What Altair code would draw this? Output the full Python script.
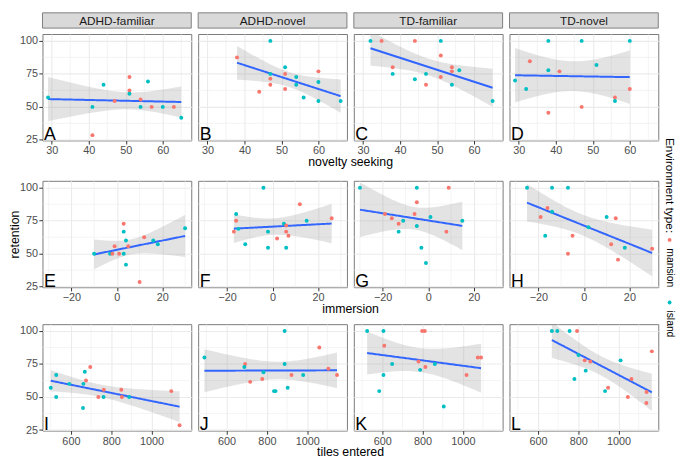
import numpy as np
import pandas as pd
import altair as alt

FONT = "Liberation Sans"
MANSION = "#F8766D"
ISLAND = "#00BFC4"

# ---------------- data ----------------
facets = ["ADHD-familiar", "ADHD-novel", "TD-familiar", "TD-novel"]
row_titles = ["novelty seeking", "immersion", "tiles entered"]
letters = ["A", "B", "C", "D", "E", "F", "G", "H", "I", "J", "K", "L"]
env_names = {"m": "mansion", "i": "island"}
legend_items = ["mansion", "island"]

A_x = [29, 44, 41, 41, 47, 51, 51, 51, 54, 54, 56, 57, 60, 63, 65]
A_y = [57.1, 66.7, 50, 28.6, 54.5, 72.7, 62.5, 60, 55.6, 50, 69.2, 50, 50, 50, 41.7]
A_env = "iiimmmmimiimimi"

B_x = [38, 47, 47, 47, 47, 44, 51, 51, 51, 54, 54, 56, 60, 60, 60, 66]
B_y = [87.5, 100, 75, 71.4, 66.7, 61.5, 80, 75, 63.6, 72.7, 66.7, 57.1, 76.9, 68.8, 54.5, 54.5]
B_env = "miimmmimmiiimiii"

C_x = [32, 35, 44, 51, 51, 38, 38, 44, 47, 47, 51, 54, 54, 56, 54, 65]
C_y = [100, 100, 100, 100, 88.9, 80, 75, 71, 75, 66.7, 72.7, 80, 76.9, 77.8, 66.7, 54.5]
C_env = "immimmiiimmmmiii"

D_x = [38, 47, 60, 33, 38, 41, 51, 29, 32, 60, 56, 56, 47, 38]
D_y = [100, 100, 100, 84.6, 77.8, 76.9, 81.8, 70, 63.6, 63.6, 57.1, 54.5, 50, 45.5]
D_env = "iiimimiiimmimm"

E_x = [-10, -3, -2, -1, 1, 3, 3, 3, 4, 4, 5, 10, 12, 16, 18, 30]
E_y = [50, 50, 50, 55.6, 50, 72.7, 66.7, 50, 60, 41.7, 55.6, 28.6, 62.5, 60, 57.1, 69.2]
E_env = "iimmmmiiiimmmiii"

F_x = [-17, -16, -16, -15, -12, -4, -2, -2, 2, 5, 6, 6, 6, 7, 12, 15, 26]
F_y = [66.7, 75, 80, 68.8, 57.1, 100, 66.7, 54.5, 61.5, 72.7, 71.4, 66.7, 54.5, 63.6, 87.5, 75, 76.9]
F_env = "mmiiiiiimimmimmim"

G_x = [-30, -5, 9, -5, -19, -16, -13, -11, -13, -6, -5, 1, -3, -1, 8, 15]
G_y = [100, 100, 100, 88.9, 80, 76.9, 72.7, 75, 66.7, 80, 71, 77.8, 54.5, 42.9, 66.7, 75]
G_env = "iimmmmmiimiiiimi"

H_x = [-25, -14, -7, -16, -14, -19, -17, -5, -7, 2, 10, 14, 12, 18, 15, 30]
H_y = [100, 100, 100, 84.6, 81.8, 77.8, 63.6, 63.6, 50, 70, 77.8, 76.9, 57.1, 54.5, 45.5, 53.8]
H_env = "iiimimimmiimmimm"

I_x = [500, 527, 527, 592, 660, 662, 669, 675, 696, 736, 763, 762, 850, 853, 889, 1098, 1139]
I_y = [57.1, 66.7, 50, 60, 41.7, 60, 69.2, 62.5, 72.7, 50, 55.6, 50, 55.6, 50, 50, 54.5, 28.6]
I_env = "iiiiiiimmmmimmimm"

J_x = [490, 692, 688, 717, 783, 777, 835, 843, 888, 888, 903, 922, 980, 1060, 1105, 1148]
J_y = [80, 75, 72.7, 61.5, 68.8, 63.6, 54.5, 54.5, 100, 75, 57.1, 66.7, 66.7, 87.5, 71.4, 66.7]
J_env = "imimimiiiiimimmm"

K_x = [525, 606, 798, 811, 610, 649, 606, 585, 780, 788, 814, 861, 905, 1018, 1074, 1090]
K_y = [100, 100, 100, 100, 88.9, 75, 66.7, 54.5, 76.9, 70.6, 72.7, 75, 42.9, 66.7, 80, 80]
K_env = "iimmmiiimimiimmm"

L_x = [669, 696, 757, 794, 801, 832, 860, 837, 781, 1010, 1064, 948, 933, 1046, 1139, 1138, 1165]
L_y = [100, 100, 100, 100, 81.8, 77.8, 76.9, 70, 63.6, 77.8, 63.6, 57.1, 54.5, 50, 53.8, 45.5, 84.6]
L_env = "iiimimmiiimmimmmm"

panel_data = [
    [(A_x, A_y, A_env), (B_x, B_y, B_env), (C_x, C_y, C_env), (D_x, D_y, D_env)],
    [(E_x, E_y, E_env), (F_x, F_y, F_env), (G_x, G_y, G_env), (H_x, H_y, H_env)],
    [(I_x, I_y, I_env), (J_x, J_y, J_env), (K_x, K_y, K_env), (L_x, L_y, L_env)],
]

# axis ticks / domains
x_domains = [[27.5, 67.7], [-32.7, 32.7], [459, 1197]]
x_major = [[30, 40, 50, 60], [-20, 0, 20], [600, 800, 1000]]
x_minor = [[35, 45, 55, 65], [-30, -10, 10, 30], [500, 700, 900, 1100]]
y_domain = [24.6, 105.2]
y_major = [25, 50, 75, 100]
y_minor = [37.5, 62.5, 87.5]

T975 = {10: 2.228, 11: 2.201, 12: 2.179, 13: 2.160, 14: 2.145, 15: 2.131,
        16: 2.120, 17: 2.110, 18: 2.101, 19: 2.093, 20: 2.086}

W = 151
H = 108
GRID = "#ebebeb"


def fit_band(xs, ys, n_grid=80):
    x = np.asarray(xs, float)
    y = np.asarray(ys, float)
    n = len(x)
    b1, b0 = np.polyfit(x, y, 1)
    res = y - (b0 + b1 * x)
    s = np.sqrt((res ** 2).sum() / (n - 2))
    sxx = ((x - x.mean()) ** 2).sum()
    g = np.linspace(x.min(), x.max(), n_grid)
    f = b0 + b1 * g
    se = s * np.sqrt(1.0 / n + (g - x.mean()) ** 2 / sxx)
    t = T975[n - 2]
    return pd.DataFrame({"x": g, "fit": f, "lo": f - t * se, "hi": f + t * se})


def make_panel(row, col):
    xs, ys, env = panel_data[row][col]
    df = pd.DataFrame({"x": xs, "y": ys, "env": [env_names[c] for c in env]})
    band = fit_band(xs, ys)

    xscale = alt.Scale(domain=x_domains[row], nice=False, zero=False)
    yscale = alt.Scale(domain=y_domain, nice=False, zero=False)
    xaxis = alt.Axis(values=x_major[row], format="d", grid=True, gridColor=GRID, gridWidth=1.1,
                     labelFontSize=11, labelColor="#4d4d4d", labelFont=FONT,
                     tickColor="#333333", tickSize=3.7, tickWidth=1, labelPadding=1,
                     domain=False, title=None)
    if col == 0:
        yaxis = alt.Axis(values=y_major, format="d", grid=True, gridColor=GRID, gridWidth=1.1,
                         labelFontSize=11, labelColor="#4d4d4d", labelFont=FONT,
                         tickColor="#333333", tickSize=3.7, tickWidth=1, labelPadding=1.3,
                         domain=False, title="retention", titleFont=FONT,
                         titleFontSize=12.5, titleFontWeight="normal", titleColor="black",
                         titleOpacity=1 if row == 1 else 0, titlePadding=0,
                         minExtent=21, maxExtent=21)
    else:
        yaxis = alt.Axis(values=y_major, grid=True, gridColor=GRID, gridWidth=1.1,
                         labels=False, ticks=False, domain=False, title=None)

    X = lambda f: alt.X(f, type="quantitative", scale=xscale, axis=xaxis)
    Y = lambda f: alt.Y(f, type="quantitative", scale=yscale, axis=yaxis)

    minor_x = alt.Chart(pd.DataFrame({"v": x_minor[row]})).mark_rule(
        color=GRID, strokeWidth=0.55).encode(x=X("v"))
    minor_y = alt.Chart(pd.DataFrame({"v": y_minor})).mark_rule(
        color=GRID, strokeWidth=0.55).encode(y=Y("v"))
    area = alt.Chart(band).mark_area(color="#999999", opacity=0.27, clip=True).encode(
        x=X("x"), y=Y("lo"), y2="hi")
    line = alt.Chart(band).mark_line(color="#3366FF", strokeWidth=2, clip=True).encode(
        x=X("x"), y=Y("fit"))
    pts = alt.Chart(df).mark_circle(size=16, opacity=1).encode(
        x=X("x"), y=Y("y"),
        color=alt.Color("env:N", scale=alt.Scale(domain=legend_items, range=[MANSION, ISLAND]),
                        legend=None))
    letter = alt.Chart(pd.DataFrame({"t": [letters[row * 4 + col]]})).mark_text(
        align="left", baseline="alphabetic", fontSize=18, font=FONT, color="black").encode(
        x=alt.value(1.5), y=alt.value(H - 0.7), text="t:N")

    layers = [minor_x, minor_y, area, line, pts, letter]
    if row == 0:
        sdf = pd.DataFrame({"f": [facets[col]]})
        strip = alt.Chart(sdf).mark_rect(fill="#d9d9d9", stroke="#7f7f7f", strokeWidth=1).encode(
            x=alt.value(0), x2=alt.value(W), y=alt.value(-21.5), y2=alt.value(-6))
        stext = alt.Chart(sdf).mark_text(fontSize=12, font=FONT, color="#1a1a1a",
                                         baseline="middle", align="center").encode(
            x=alt.value(W / 2), y=alt.value(-13.5), text="f:N")
        layers += [strip, stext]
    return alt.layer(*layers).properties(width=W, height=H)


def make_row(row):
    return alt.hconcat(*[make_panel(row, c) for c in range(4)], spacing=5).properties(
        title=alt.TitleParams(row_titles[row], orient="bottom", anchor="middle",
                              fontSize=12.5, fontWeight="normal", color="black",
                              font=FONT, offset=0, dx=17))


rows_bottom = alt.vconcat(make_row(1), make_row(2), spacing=7.5)
plots = alt.vconcat(make_row(0), rows_bottom, spacing=11)

# legend (rotated, like the reference); positions relative to the first plot row's top
ltitle = alt.Chart(pd.DataFrame({"t": ["Environment type:"]})).mark_text(
    angle=90, align="left", baseline="middle", fontSize=12, font=FONT, color="black").encode(
    x=alt.value(7), y=alt.value(105.5), text="t:N")
leg_layers = [ltitle]
dot_pos = [209, 272.5]
lab_pos = [217.5, 280.5]
for i, item in enumerate(legend_items):
    idf = pd.DataFrame({"env": [item]})
    leg_layers.append(alt.Chart(idf).mark_circle(size=15, opacity=1).encode(
        x=alt.value(7), y=alt.value(dot_pos[i]),
        color=alt.Color("env:N", scale=alt.Scale(domain=legend_items, range=[MANSION, ISLAND]),
                        legend=None)))
    leg_layers.append(alt.Chart(idf).mark_text(
        angle=90, align="left", baseline="middle", fontSize=10.5, font=FONT, color="black").encode(
        x=alt.value(7), y=alt.value(lab_pos[i]), text="env:N"))
legend = alt.layer(*leg_layers).properties(
    width=14, height=380, view=alt.ViewBackground(stroke="transparent"))

chart = alt.hconcat(plots, legend, spacing=2.5).properties(
    padding={"left": 0, "top": 0, "right": 0, "bottom": 0}
).configure(font=FONT).configure_view(stroke="#7a7a7a", strokeWidth=1)

chart.save("out.html", embed_options={"renderer": "svg", "actions": False})
